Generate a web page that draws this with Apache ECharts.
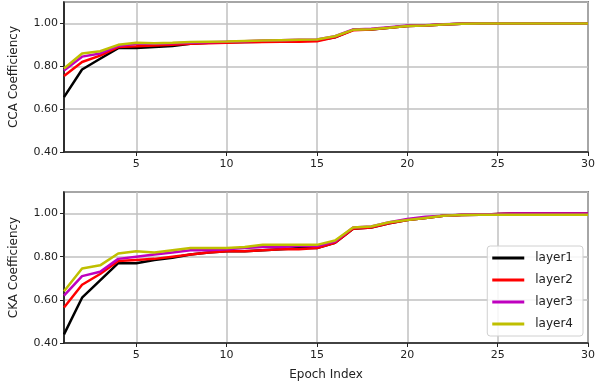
<!DOCTYPE html>
<html><head><meta charset="utf-8">
<script src="https://cdn.jsdelivr.net/npm/echarts@6/dist/echarts.min.js"></script>
<style>html,body{margin:0;padding:0;background:#fff}#c{width:598px;height:388px}</style>
</head><body><div id="c"></div>
<script>
const epochs = Array.from({length:30},(_, i)=>i+1);
const xTicks = [5,10,15,20,25,30];
const layerNames = ['layer1','layer2','layer3','layer4'];
const layerColors = ['#000000','#ff0000','#bf00bf','#bfbf00'];

const ccaLayer1 = [0.656,0.785,0.835,0.885,0.885,0.89,0.895,0.905,0.91,0.912,0.913,0.915,0.918,0.92,0.922,0.935,0.97,0.972,0.98,0.988,0.99,0.995,0.998,1.0,1.0,1.0,1.0,1.0,1.0,1.0];
const ccaLayer2 = [0.755,0.82,0.85,0.89,0.893,0.897,0.9,0.905,0.908,0.91,0.912,0.913,0.915,0.915,0.917,0.935,0.968,0.972,0.98,0.988,0.99,0.995,0.998,1.0,1.0,1.0,1.0,1.0,1.0,1.0];
const ccaLayer3 = [0.78,0.845,0.86,0.895,0.905,0.905,0.908,0.91,0.912,0.915,0.917,0.92,0.922,0.924,0.925,0.94,0.972,0.975,0.982,0.99,0.992,0.996,0.999,1.0,1.0,1.0,1.0,1.0,1.0,1.0];
const ccaLayer4 = [0.79,0.86,0.87,0.9,0.91,0.908,0.91,0.913,0.915,0.916,0.918,0.92,0.922,0.924,0.925,0.94,0.97,0.973,0.98,0.988,0.99,0.995,0.998,1.0,1.0,1.0,1.0,1.0,1.0,1.0];

const ckaLayer1 = [0.44,0.61,0.69,0.77,0.77,0.785,0.795,0.81,0.82,0.825,0.825,0.83,0.835,0.84,0.84,0.865,0.93,0.935,0.955,0.97,0.98,0.99,0.993,0.995,0.998,1.0,1.0,1.0,1.0,1.0];
const ckaLayer2 = [0.565,0.67,0.72,0.78,0.785,0.79,0.8,0.81,0.82,0.825,0.825,0.83,0.835,0.835,0.84,0.865,0.93,0.935,0.955,0.97,0.98,0.99,0.993,0.995,0.998,1.0,1.0,1.0,1.0,1.0];
const ckaLayer3 = [0.62,0.71,0.73,0.79,0.80,0.81,0.82,0.83,0.83,0.835,0.84,0.845,0.845,0.85,0.85,0.87,0.935,0.94,0.96,0.975,0.985,0.99,0.995,0.997,0.998,1.0,1.0,1.0,1.0,1.0];
const ckaLayer4 = [0.64,0.745,0.76,0.815,0.825,0.82,0.83,0.84,0.84,0.84,0.845,0.855,0.855,0.855,0.855,0.875,0.935,0.94,0.96,0.97,0.98,0.99,0.993,0.995,0.995,0.995,0.995,0.995,0.995,0.995];

const ccaData = [ccaLayer1, ccaLayer2, ccaLayer3, ccaLayer4];
const ckaData = [ckaLayer1, ckaLayer2, ckaLayer3, ckaLayer4];

const font = 'DejaVu Sans';
const lbl = {color:'#222', fontFamily:font, fontSize:11};

function xAxis(gi, name){
  return {
    type:'value', gridIndex:gi, min:1, max:30,
    axisLine:{show:true, lineStyle:{color:'#222', width:1.5}},
    axisTick:{show:true, customValues:xTicks, length:4, lineStyle:{color:'#222'}},
    axisLabel:{show:true, customValues:xTicks, ...lbl, margin:7},
    splitLine:{show:true, lineStyle:{color:'#c0c0c0', width:1.5}},
    name, nameLocation:'middle', nameGap:26,
    nameTextStyle:{...lbl, fontSize:12}
  };
}
function yAxis(gi, name){
  return {
    type:'value', gridIndex:gi, min:0.4, max:1.1, interval:0.2,
    axisLine:{show:true, lineStyle:{color:'#222', width:1.5}},
    axisTick:{show:true, length:4, lineStyle:{color:'#222'}},
    axisLabel:{...lbl, margin:6, showMaxLabel:false, formatter:v=> v>1.05 ? '' : v.toFixed(2)},
    splitLine:{show:true, lineStyle:{color:'#c0c0c0', width:1.5}},
    name, nameLocation:'middle', nameGap:44, nameTextStyle:{...lbl, fontSize:12}
  };
}

const series = [];
[ccaData, ckaData].forEach((set, gi)=>{
  set.forEach((vals, li)=>{
    series.push({
      type:'line', name:layerNames[li], xAxisIndex:gi, yAxisIndex:gi,
      data: epochs.map((e,i)=>[e, vals[i]]),
      showSymbol:false, symbol:'none',
      lineStyle:{color:layerColors[li], width:2.5},
      itemStyle:{color:layerColors[li]},
      z: 2+li
    });
  });
});

const chart = echarts.init(document.getElementById('c'), null, {renderer:'canvas'});
chart.setOption({
  animation:false,
  backgroundColor:'#fff',
  grid:[
    {left:62, right:8, top:2, height:150, show:true, borderColor:'#222', borderWidth:1.5, backgroundColor:'transparent'},
    {left:62, right:8, top:192, height:151, show:true, borderColor:'#222', borderWidth:1.5, backgroundColor:'transparent'}
  ],
  xAxis:[xAxis(0,''), xAxis(1,'Epoch Index')],
  yAxis:[yAxis(0,'CCA Coefficiency'), yAxis(1,'CKA Coefficiency')],
  legend:{
    data:layerNames, orient:'vertical', right:15, top:246,
    icon:'rect', itemWidth:32, itemHeight:3, itemGap:10,
    textStyle:{...lbl, fontSize:12, padding:[0,0,0,6]},
    backgroundColor:'rgba(255,255,255,0.85)', borderColor:'#d0d0d0', borderWidth:1, borderRadius:3,
    padding:[6,10,6,5]
  },
  series
});
</script></body></html>
